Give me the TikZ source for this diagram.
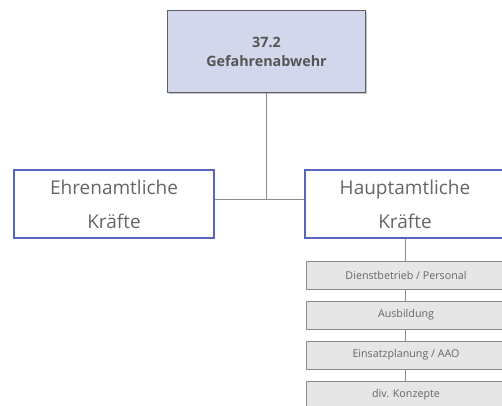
\documentclass[tikz,border=0pt]{standalone}
\usepackage{fontspec}
\setmainfont{Open Sans}
\usetikzlibrary{shadows}
\definecolor{topfill}{HTML}{D2D7EC}
\definecolor{topedge}{HTML}{5E5E66}
\definecolor{blueedge}{HTML}{5566BB}
\definecolor{txt}{HTML}{555555}
\definecolor{txtlight}{HTML}{666666}
\definecolor{linec}{HTML}{8C8C8C}
\definecolor{smallfill}{HTML}{E6E6E6}
\definecolor{smalledge}{HTML}{8A8A8A}
\tikzset{
  topbox/.style={draw=topedge, line width=1.4pt, fill=topfill, minimum width=198pt, minimum height=82pt,
    inner sep=0pt, align=center, text=txt, font=\fontsize{14.3}{19}\selectfont\bfseries,
    drop shadow={shadow xshift=1.2pt, shadow yshift=-1.2pt, opacity=0.45, fill=gray}},
  midbox/.style={draw=blueedge, line width=1.1pt, fill=white, minimum width=200pt, minimum height=68pt,
    inner sep=0pt, align=center, text=txtlight, font=\fontsize{19}{34}\selectfont},
  smallbox/.style={draw=smalledge, line width=0.9pt, fill=smallfill, minimum width=200pt, minimum height=28pt,
    inner sep=0pt, align=center, text=txtlight, font=\fontsize{10.7}{12}\selectfont,
    drop shadow={shadow xshift=0pt, shadow yshift=-1.3pt, opacity=0.5, fill=gray}},
  conn/.style={draw=linec, line width=0.8pt},
}
\begin{document}
\begin{tikzpicture}[x=1pt,y=-1pt]
\useasboundingbox (0,0) rectangle (502,405);
\clip (0,0) rectangle (502,405);
\node[topbox] (top) at (266.5,51.5) {37.2\\Gefahrenabwehr};
\node[midbox] (ehren) at (114,204) {Ehrenamtliche\\Kräfte};
\node[midbox] (haupt) at (405,204) {Hauptamtliche\\Kräfte};
\coordinate (j) at (266.5,199);
\node[smallbox] (s1) at (406,275) {Dienstbetrieb / Personal};
\node[smallbox] (s2) at (406,315) {Ausbildung};
\node[smallbox] (s3) at (406,355) {Einsatzplanung / AAO};
\node[smallbox] (s4) at (406,395) {div. Konzepte};
\draw[conn] (top.south) -- (j);
\draw[conn] (ehren.east |- j) -- (haupt.west |- j);
\draw[conn] (haupt.south) -- (haupt.south |- s1.north);
\draw[conn] (s1.south -| haupt.south) -- (haupt.south |- s2.north);
\draw[conn] (s2.south -| haupt.south) -- (haupt.south |- s3.north);
\draw[conn] (s3.south -| haupt.south) -- (haupt.south |- s4.north);
\end{tikzpicture}
\end{document}
